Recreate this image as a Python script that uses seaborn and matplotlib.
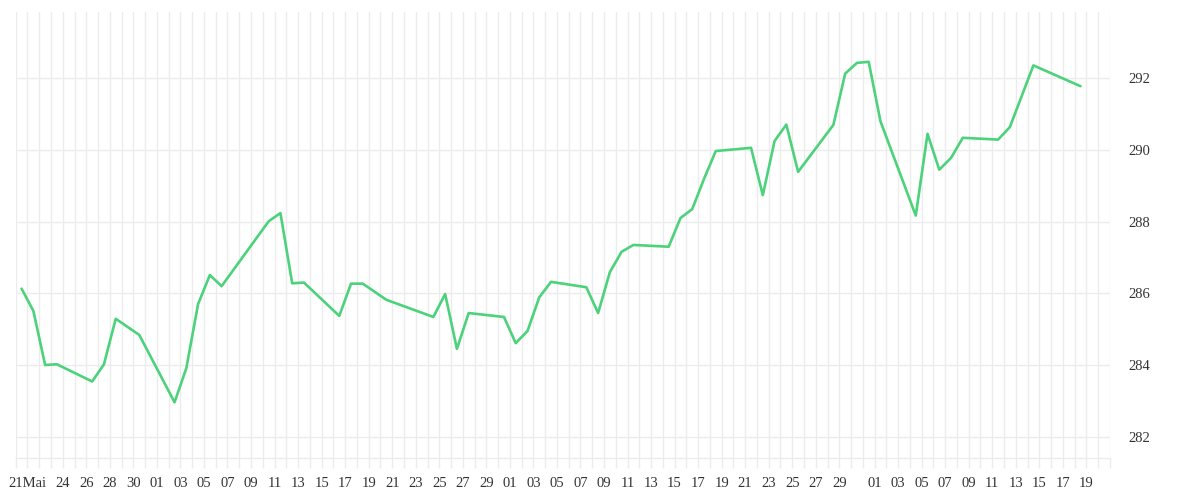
import pandas as pd
import seaborn as sns
import matplotlib.pyplot as plt
import matplotlib.dates as mdates

# trading days (2025) and closing values
dates = [
    '2025-05-20', '2025-05-21', '2025-05-22', '2025-05-23', '2025-05-26',
    '2025-05-27', '2025-05-28', '2025-05-30', '2025-06-02', '2025-06-03',
    '2025-06-04', '2025-06-05', '2025-06-06', '2025-06-10', '2025-06-11',
    '2025-06-12', '2025-06-13', '2025-06-16', '2025-06-17', '2025-06-18',
    '2025-06-20', '2025-06-24', '2025-06-25', '2025-06-26', '2025-06-27',
    '2025-06-30', '2025-07-01', '2025-07-02', '2025-07-03', '2025-07-04',
    '2025-07-07', '2025-07-08', '2025-07-09', '2025-07-10', '2025-07-11',
    '2025-07-14', '2025-07-15', '2025-07-16', '2025-07-17', '2025-07-18',
    '2025-07-21', '2025-07-22', '2025-07-23', '2025-07-24', '2025-07-25',
    '2025-07-28', '2025-07-29', '2025-07-30', '2025-07-31', '2025-08-01',
    '2025-08-04', '2025-08-05', '2025-08-06', '2025-08-07', '2025-08-08',
    '2025-08-11', '2025-08-12', '2025-08-14', '2025-08-18',
]
values = [
    286.13, 285.51, 284.00, 284.02, 283.54,
    284.02, 285.29, 284.84, 282.96, 283.91,
    285.70, 286.51, 286.20, 288.01, 288.24,
    286.28, 286.30, 285.37, 286.27, 286.27,
    285.82, 285.34, 285.98, 284.45, 285.45,
    285.34, 284.61, 284.95, 285.89, 286.32,
    286.17, 285.45, 286.59, 287.16, 287.35,
    287.30, 288.10, 288.35, 289.19, 289.97,
    290.06, 288.74, 290.25, 290.71, 289.39,
    290.70, 292.13, 292.43, 292.46, 290.80,
    288.17, 290.45, 289.45, 289.78, 290.34,
    290.29, 290.64, 292.36, 291.78,
]
y_ticks = [282, 284, 286, 288, 290, 292]

# x tick labels (day -> label); every day gets a grid line
tick_labels = {'2025-05-21': '21Mai'}
for d in [24, 26, 28, 30]:
    tick_labels['2025-05-%02d' % d] = '%02d' % d
for m in ['06', '07']:
    for d in range(1, 30, 2):
        tick_labels['2025-%s-%02d' % (m, d)] = '%02d' % d
for d in range(1, 20, 2):
    tick_labels['2025-08-%02d' % d] = '%02d' % d

df = pd.DataFrame({'date': pd.to_datetime(dates) + pd.Timedelta(hours=12),
                   'value': values})

sns.set_theme(style='white')
plt.rcParams['font.family'] = ['Liberation Serif', 'DejaVu Serif']

grid_c = '#ececec'
fig = plt.figure(figsize=(12, 5), dpi=100)
ax = fig.add_axes([0.013, 0.084, 0.912, 0.892])

sns.lineplot(data=df, x='date', y='value', color='#4cd27b', linewidth=1.9, ax=ax)

days = pd.date_range('2025-05-20', '2025-08-21', freq='D')
ax.set_xticks(mdates.date2num(days))
ax.set_xticklabels([tick_labels.get(d.strftime('%Y-%m-%d'), '') for d in days])
ax.set_xlim(mdates.date2num(pd.Timestamp('2025-05-20')) - 0.01,
            mdates.date2num(pd.Timestamp('2025-08-21')) + 0.01)

ax.set_ylim(281.405, 293.85)
ax.set_yticks(y_ticks)
ax.yaxis.tick_right()

ax.grid(True, color=grid_c, linewidth=1)
ax.set_axisbelow(True)
for s in ['top', 'left', 'right']:
    ax.spines[s].set_visible(False)
ax.spines['bottom'].set_color(grid_c)
ax.spines['bottom'].set_linewidth(1)

ax.tick_params(axis='x', length=7.5, width=1, color=grid_c, pad=6,
               labelsize=10.5, labelcolor='#333333', bottom=True)
ax.tick_params(axis='y', length=0, pad=13, labelsize=10.5, labelcolor='#333333')
ax.set_xlabel('')
ax.set_ylabel('')

plt.savefig('out.png', dpi=100)
